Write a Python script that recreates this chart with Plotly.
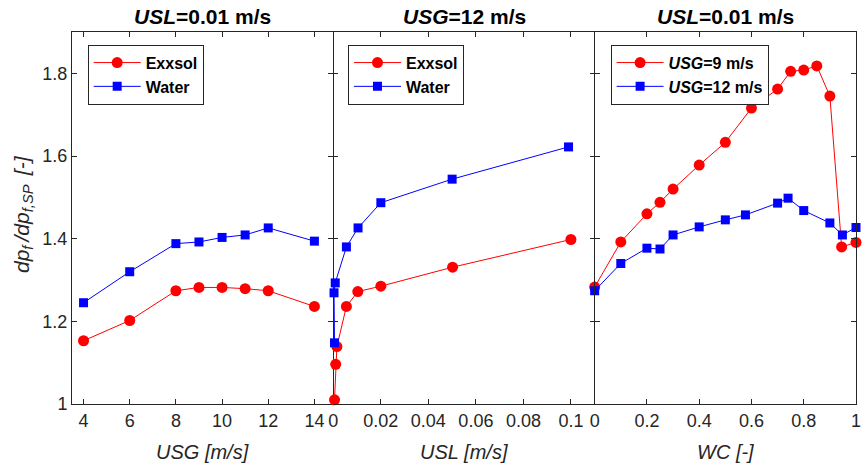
import plotly.graph_objects as go
from plotly.subplots import make_subplots

# Panel 1: USL = 0.01 m/s, x = USG
usg = [4, 6, 8, 9, 10, 11, 12, 14]
p1_exxsol = [1.153, 1.202, 1.274, 1.282, 1.282, 1.279, 1.274, 1.236]
p1_water = [1.245, 1.320, 1.388, 1.392, 1.403, 1.409, 1.426, 1.394]

# Panel 2: USG = 12 m/s, x = USL
usl_exxsol = [0.0005, 0.001, 0.0015, 0.0055, 0.0103, 0.02, 0.0502, 0.1]
p2_exxsol = [1.010, 1.096, 1.139, 1.236, 1.272, 1.285, 1.331, 1.398]
usl_water = [0.0005, 0.0003, 0.0008, 0.0055, 0.0104, 0.02, 0.05, 0.099]
p2_water = [1.148, 1.269, 1.293, 1.380, 1.426, 1.487, 1.544, 1.622]

# Panel 3: USL = 0.01 m/s, x = WC
wc = [0, 0.1, 0.2, 0.25, 0.3, 0.4, 0.5, 0.6, 0.7, 0.75, 0.8, 0.85, 0.9, 0.945, 1.0]
p3_usg9 = [1.283, 1.392, 1.460, 1.488, 1.520, 1.578, 1.633, 1.716, 1.762, 1.805,
           1.808, 1.818, 1.745, 1.380, 1.391]
wc_b = [0, 0.1, 0.2, 0.25, 0.3, 0.4, 0.5, 0.577, 0.7, 0.74, 0.8, 0.9, 0.948, 1.0]
p3_usg12 = [1.274, 1.340, 1.377, 1.375, 1.409, 1.4285, 1.4455, 1.4575, 1.486,
            1.498, 1.468, 1.438, 1.409, 1.427]

titles = ["<b><i>USL</i>=0.01 m/s</b>", "<b><i>USG</i>=12 m/s</b>", "<b><i>USL</i>=0.01 m/s</b>"]
xtitles = ["<i>USG [m/s]</i>", "<i>USL [m/s]</i>", "<i>WC [-]</i>"]
ytitle = "<i>dp<sub>f </sub>/dp<sub>f,SP </sub> [-]</i>"

RED = "#ff0000"
BLUE = "#0000ff"
DARK = "#262626"
FONT = "Liberation Sans"

fig = make_subplots(rows=1, cols=3, shared_yaxes=False, horizontal_spacing=0)

def add(x, y, name, color, symbol, col, legend, size):
    fig.add_trace(go.Scatter(
        x=x, y=y, name=name, mode="lines+markers",
        line=dict(color=color, width=1),
        marker=dict(color=color, symbol=symbol, size=size, line=dict(width=0)),
        cliponaxis=False, legend=legend), row=1, col=col)

add(usg, p1_exxsol, "<b>Exxsol</b>", RED, "circle", 1, "legend", 11)
add(usg, p1_water, "<b>Water</b>", BLUE, "square", 1, "legend", 9)
add(usl_exxsol, p2_exxsol, "<b>Exxsol</b>", RED, "circle", 2, "legend2", 11)
add(usl_water, p2_water, "<b>Water</b>", BLUE, "square", 2, "legend2", 9)
add(wc, p3_usg9, "<b><i>USG</i>=9 m/s</b>", RED, "circle", 3, "legend3", 11)
add(wc_b, p3_usg12, "<b><i>USG</i>=12 m/s</b>", BLUE, "square", 3, "legend3", 9)

axis_common = dict(showline=True, mirror="ticks", linecolor=DARK, linewidth=1,
                   ticks="inside", ticklen=5, tickcolor=DARK, showgrid=False,
                   zeroline=False, tickfont=dict(family=FONT, size=18, color=DARK))

fig.update_xaxes(**axis_common)
fig.update_yaxes(**axis_common)

fig.update_xaxes(range=[3.5, 14.82], tickvals=[4, 6, 8, 10, 12, 14], row=1, col=1)
fig.update_xaxes(range=[0, 0.11], tickvals=[0, 0.02, 0.04, 0.06, 0.08, 0.1],
                 ticktext=["0", "0.02", "0.04", "0.06", "0.08", "0.1"], row=1, col=2)
fig.update_xaxes(range=[0, 1], tickvals=[0, 0.2, 0.4, 0.6, 0.8, 1],
                 ticktext=["0", "0.2", "0.4", "0.6", "0.8", "1"], row=1, col=3)
yticks = [1, 1.2, 1.4, 1.6, 1.8]
fig.update_yaxes(range=[1, 1.9], tickvals=yticks, ticktext=["1", "1.2", "1.4", "1.6", "1.8"])
# middle panel: no own vertical lines (neighbours draw the boundaries), ticks kept
fig.update_yaxes(showticklabels=False, showline=False, row=1, col=2)
fig.update_yaxes(showticklabels=False, row=1, col=3)

annotations = []
for i in range(3):
    cx = (2 * i + 1) / 6
    annotations.append(dict(text=titles[i], x=cx, y=1, xref="paper", yref="paper",
                            xanchor="center", yanchor="middle", yshift=16, showarrow=False,
                            font=dict(family=FONT, size=21, color="#000000")))
    annotations.append(dict(text=xtitles[i], x=cx, y=0, xref="paper", yref="paper",
                            xanchor="center", yanchor="middle", yshift=-48, showarrow=False,
                            font=dict(family=FONT, size=20, color=DARK)))
annotations.append(dict(text=ytitle, x=0, y=0.5, xref="paper", yref="paper",
                        xanchor="center", yanchor="middle", xshift=-49, yshift=4,
                        textangle=-90,
                        showarrow=False, font=dict(family=FONT, size=21, color=DARK)))

leg_common = dict(bgcolor="white", bordercolor=DARK, borderwidth=1,
                  font=dict(family=FONT, size=16, color="#000000"),
                  xanchor="left", yanchor="top", y=0.966, itemwidth=47,
                  tracegroupgap=0)

fig.update_layout(
    width=867, height=466,
    margin=dict(l=72, r=6, t=32, b=62),
    paper_bgcolor="white", plot_bgcolor="white",
    annotations=annotations,
    legend=dict(x=0.02, **leg_common),
    legend2=dict(x=0.352, **leg_common),
    legend3=dict(x=0.687, **leg_common),
)

fig.write_html("out.html")
